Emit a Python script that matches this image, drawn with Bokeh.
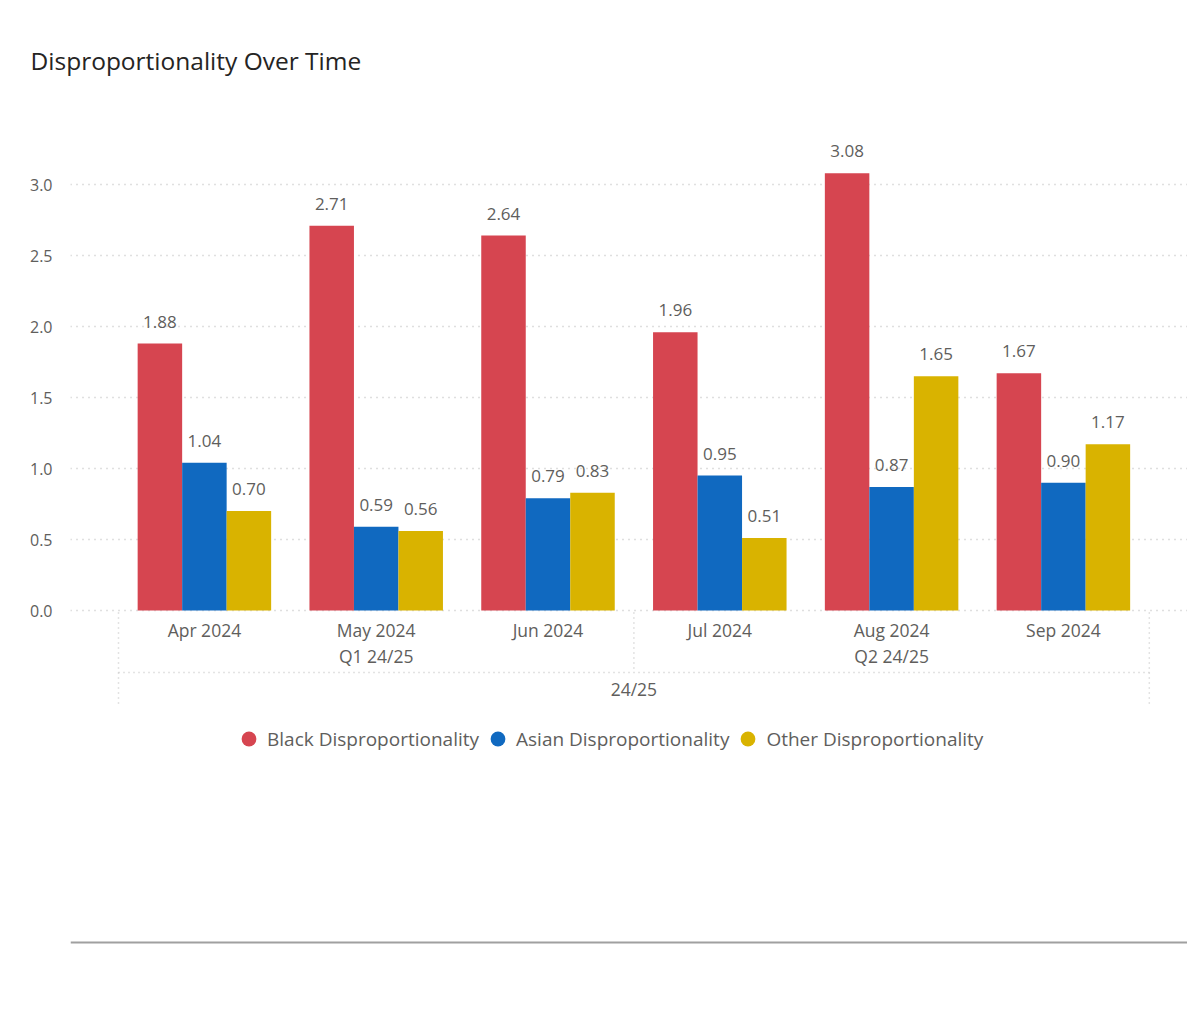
import numpy as np
from bokeh.plotting import figure
from bokeh.models import (ColumnDataSource, Range1d, FixedTicker, Legend, LegendItem,
                          Span, CustomJSTickFormatter)
from bokeh.transform import dodge
from bokeh.core.properties import value
from bokeh.embed import file_html
from bokeh.resources import INLINE

# ---- data ----
months = ["Apr 2024", "May 2024", "Jun 2024", "Jul 2024", "Aug 2024", "Sep 2024"]
quarters = ["Q1 24/25", "Q2 24/25"]
year_label = "24/25"
black = [1.88, 2.71, 2.64, 1.96, 3.08, 1.67]
asian = [1.04, 0.59, 0.79, 0.95, 0.87, 0.90]
other = [0.70, 0.56, 0.83, 0.51, 1.65, 1.17]
series_names = ["Black Disproportionality", "Asian Disproportionality", "Other Disproportionality"]
y_ticks = [0.0, 0.5, 1.0, 1.5, 2.0, 2.5, 3.0]

# ---- styling ----
FONT = "Open Sans"
colors = ["#D64550", "#1069C0", "#D9B300"]
TXT = "#605E5C"
PX = 142.0          # pixels per y unit
CAT = 171.8         # pixels per category

frame_w, frame_h = 1117, 930
y_top = 525.0 / PX
y_bot = -405.0 / PX
x_left = -48.0 / CAT
x_right = x_left + frame_w / CAT

n = len(months)
xc = np.arange(n) + 0.5
src = ColumnDataSource(dict(
    x=xc, black=black, asian=asian, other=other,
    black_t=[f"{v:.2f}" for v in black],
    asian_t=[f"{v:.2f}" for v in asian],
    other_t=[f"{v:.2f}" for v in other],
    month=months,
))

p = figure(frame_width=frame_w, frame_height=frame_h, output_backend="svg",
           toolbar_location=None, x_axis_location=None,
           x_range=Range1d(x_left, x_right), y_range=Range1d(y_bot, y_top),
           min_border_left=70, min_border_top=85, min_border_bottom=0, min_border_right=0,
           title="Disproportionality Over Time")
p.outline_line_color = None
p.background_fill_color = "white"
p.border_fill_color = "white"

p.title.text_font = FONT
p.title.text_font_size = "24.5px"
p.title.text_font_style = "normal"
p.title.text_color = "#252423"
p.title.offset = -40
p.title.standoff = 17

p.xgrid.visible = False
p.yaxis.ticker = FixedTicker(ticks=y_ticks)
p.yaxis.formatter = CustomJSTickFormatter(code="return tick.toFixed(1);")
p.yaxis.axis_line_color = None
p.yaxis.major_tick_line_color = None
p.yaxis.minor_tick_line_color = None
p.yaxis.major_label_text_font = FONT
p.yaxis.major_label_text_font_size = "16px"
p.yaxis.major_label_text_color = TXT
p.yaxis.major_label_standoff = 12
p.ygrid.grid_line_color = "#C0C0C0"
p.ygrid.grid_line_dash = "1 5"
p.ygrid.grid_line_width = 1.5

W = 44.5 / CAT
offs = [-W, 0.0, W]
keys = ["black", "asian", "other"]
for k, o, c in zip(keys, offs, colors):
    p.vbar(x=dodge("x", o), top=k, bottom=0, width=W, source=src,
           fill_color=c, line_color=None)
    p.text(x=dodge("x", o), y=k, text=k + "_t", source=src,
           text_align="center", text_baseline="middle", y_offset=-22,
           text_font=value(FONT), text_font_size="17px", text_color=TXT)

# ---- hierarchical category axis drawn inside the frame ----
LBL = dict(text_align="center", text_baseline="middle", text_font=value(FONT),
           text_font_size="17.5px", text_color=TXT)
p.text(x="x", y=-19.0 / PX, text="month", source=src, **LBL)
q_src = ColumnDataSource(dict(x=[1.5, 4.5], t=quarters))
p.text(x="x", y=-45.0 / PX, text="t", source=q_src, **LBL)
yr_src = ColumnDataSource(dict(x=[n / 2.0], t=[year_label]))
p.text(x="x", y=-78.0 / PX, text="t", source=yr_src, **LBL)

sep_kw = dict(line_color="#C8C8C8", line_dash="1 4", line_width=1.5)
p.segment(x0=[0, n / 2.0, n], y0=[-2.0 / PX] * 3, x1=[0, n / 2.0, n],
          y1=[-95.0 / PX, -62.0 / PX, -95.0 / PX], **sep_kw)
p.segment(x0=[0], y0=[-62.0 / PX], x1=[n], y1=[-62.0 / PX], **sep_kw)

# bottom gray rule of the visual container
p.add_layout(Span(location=-332.0 / PX, dimension="width", line_color="#A0A0A0",
                  line_width=2))

# ---- legend with circle markers ----
dummies = []
for c in colors:
    dummies.append(p.scatter(x=[np.nan], y=[np.nan], marker="circle", size=15,
                             fill_color=c, line_color=None))
legend = Legend(items=[LegendItem(label=nm, renderers=[d]) for nm, d in zip(series_names, dummies)],
                orientation="horizontal", location=(160, 258))
legend.label_text_font = FONT
legend.label_text_font_size = "19px"
legend.label_text_color = TXT
legend.glyph_width = 37
legend.glyph_height = 37
legend.label_standoff = 0
legend.spacing = 0
legend.padding = 0
legend.margin = 0
legend.border_line_color = None
legend.background_fill_alpha = 0
p.add_layout(legend, "center")

open("out.html", "w").write(file_html(p, INLINE))
